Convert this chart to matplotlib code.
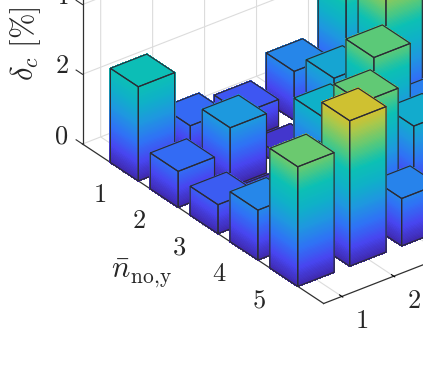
import matplotlib
matplotlib.use("Agg")
import matplotlib.pyplot as plt
import numpy as np
from matplotlib.colors import LinearSegmentedColormap
from mpl_toolkits.mplot3d import proj3d
from mpl_toolkits.mplot3d.art3d import Poly3DCollection, Line3DCollection

plt.rcParams['mathtext.fontset'] = 'cm'
plt.rcParams['grid.color'] = '#dcdcdc'
plt.rcParams['grid.linewidth'] = 0.8

# rows are n_no,y, columns are the other axis
row_ticks = [1, 2, 3, 4, 5]
col_ticks = [1, 2, 3, 4, 5]
col_labels = [1, 2]  # the rest falls outside the crop
z_ticks = [0, 2, 4]
delta_c = [
    [2.70, 1.00, 0.77, 1.40, 4.40],
    [1.03, 1.70, 0.30, 1.96, 5.20],
    [0.83, 0.30, 2.20, 3.31, 1.30],
    [1.43, 1.90, 3.36, 2.10, 1.00],
    [3.43, 4.17, 1.36, 1.00, 1.00],
]

parula_nodes = ['#3e26a8', '#4746f0', '#2f72f5', '#1f96e0', '#0fb0c8',
                '#0cc0b4', '#58c97a', '#a8c84c', '#e8bc20', '#fbd828', '#f9fb15']
parula = LinearSegmentedColormap.from_list('parula_ish', parula_nodes)

width = 0.7
zmax = 5.5
edge = '#2b2b35'
axis_col = '#303030'
s = 65.7      # px per row/col
sz = 40.6     # px per unit of z
xlim = (-0.05, 6.0)
ylim = (0.65, 5.35)
zlim = (0, 4.6)


def add_bar(ax, r, c, h, order):
    x0, x1 = r - width / 2, r + width / 2
    y0, y1 = c - width / 2, c + width / 2
    levels = np.append(np.arange(0, h, 0.04), h)
    strips, colors = [], []
    for a, b in zip(levels[:-1], levels[1:]):
        col = parula((a + b) / 2 / zmax)
        strips.append([(x1, y0, a), (x1, y1, a), (x1, y1, b), (x1, y0, b)])
        colors.append(col)
        strips.append([(x0, y0, a), (x1, y0, a), (x1, y0, b), (x0, y0, b)])
        colors.append(col)
    strips.append([(x0, y0, h), (x1, y0, h), (x1, y1, h), (x0, y1, h)])
    colors.append(parula(h / zmax))
    # no antialiasing here, otherwise the seams between strips show
    ax.add_collection3d(Poly3DCollection(strips, facecolors=colors, edgecolors=colors,
                                         linewidths=0.6, antialiaseds=False, zorder=order))
    outline = [
        [(x1, y0, 0), (x1, y1, 0), (x1, y1, h), (x1, y0, h), (x1, y0, 0)],
        [(x0, y0, 0), (x1, y0, 0), (x1, y0, h), (x0, y0, h), (x0, y0, 0)],
        [(x0, y0, h), (x1, y0, h), (x1, y1, h), (x0, y1, h), (x0, y0, h)],
    ]
    ax.add_collection3d(Line3DCollection(outline, colors=edge, linewidths=0.85,
                                         zorder=order + 0.5))


fig = plt.figure(figsize=(4.23, 3.66), dpi=100)
ax = fig.add_axes([0, 0, 1, 1], projection='3d', proj_type='ortho', computed_zorder=False)
ax.view_init(elev=30.5, azim=-37.5)
ax.set_xlim(*xlim)
ax.set_ylim(*ylim)
ax.set_zlim(*zlim)
ax.set_box_aspect((xlim[1] - xlim[0], ylim[1] - ylim[0], (zlim[1] - zlim[0]) * sz / s))
ax.patch.set_alpha(0)

for axis in (ax.xaxis, ax.yaxis, ax.zaxis):
    axis.pane.set_visible(False)
    axis.line.set_color(axis_col)
    axis.line.set_linewidth(0.9)
    axis._axinfo['tick']['inward_factor'] = 0.05
    axis._axinfo['tick']['outward_factor'] = 0.12
    axis._axinfo['tick']['linewidth'] = {True: 0.8, False: 0.5}
    axis._axinfo['tick']['color'] = axis_col
ax.zaxis.line.set_visible(False)
ax.set_xticks(row_ticks)
ax.set_yticks(col_ticks)
ax.set_zticks(z_ticks)
ax.set_xticklabels([])
ax.set_yticklabels([])
ax.set_zticklabels([])
ax.zaxis.set_tick_params(which='both', length=0)
ax.zaxis._axinfo['tick']['linewidth'] = {True: 0, False: 0}

# the z axis sits on the left corner of the box in the reference
ax.plot([xlim[0], xlim[0]], [ylim[0], ylim[0]], [zlim[0], zlim[1]], color=axis_col, lw=0.9, zorder=1)
for z in z_ticks:
    ax.plot([xlim[0] - 0.16, xlim[0]], [ylim[0], ylim[0]], [z, z], color=axis_col, lw=0.8, zorder=1)

order = 2
for i, r in enumerate(row_ticks):
    for j in range(len(col_ticks) - 1, -1, -1):
        add_bar(ax, r, col_ticks[j], delta_c[i][j], order)
        order += 1


# move the axes so that the box lands on the pixels of the reference
def to_px(x, y, z):
    px, py, _ = proj3d.proj_transform(x, y, z, ax.get_proj())
    return ax.transData.transform((px, py))


fig.canvas.draw()
corner_left = np.array([82.5, 366 - 144.0])
corner_front = np.array([324.0, 366 - 303.0])
for _ in range(3):
    a = to_px(xlim[0], ylim[0], 0)
    b = to_px(xlim[1], ylim[0], 0)
    k = np.linalg.norm(corner_front - corner_left) / np.linalg.norm(b - a)
    pos = ax.get_position()
    ax.set_position([pos.x0, pos.y0, pos.width * k, pos.height * k])
    fig.canvas.draw()
    a = to_px(xlim[0], ylim[0], 0)
    shift = (corner_left - a) / np.array([423.0, 366.0])
    pos = ax.get_position()
    ax.set_position([pos.x0 + shift[0], pos.y0 + shift[1], pos.width, pos.height])
    fig.canvas.draw()

fs = 19
for r in row_ticks:
    px, py, _ = proj3d.proj_transform(r, ylim[0], 0, ax.get_proj())
    ax.annotate(f'${r}$', (px, py), xytext=(-25, -23), textcoords='offset pixels',
                ha='center', va='center', fontsize=fs, color='#262626', annotation_clip=False)
for c in col_labels:
    px, py, _ = proj3d.proj_transform(xlim[1], c, 0, ax.get_proj())
    ax.annotate(f'${c}$', (px, py), xytext=(20, -25), textcoords='offset pixels',
                ha='center', va='center', fontsize=fs, color='#262626', annotation_clip=False)
for z in z_ticks:
    px, py, _ = proj3d.proj_transform(xlim[0], ylim[0], z, ax.get_proj())
    ax.annotate(f'${z}$', (px, py), xytext=(-21, 8), textcoords='offset pixels',
                ha='center', va='center', fontsize=fs, color='#262626', annotation_clip=False)

fig.text(142 / 423, 1 - 273 / 366, r'$\bar{n}_{\mathrm{no,\!y}}$', fontsize=22,
         ha='center', va='center', color='#262626')
fig.text(26 / 423, 1 - 81 / 366, r'$\delta_c\ [\%]$', fontsize=22, rotation=90,
         ha='center', va='bottom', color='#262626')

fig.savefig('out.png', dpi=100)
